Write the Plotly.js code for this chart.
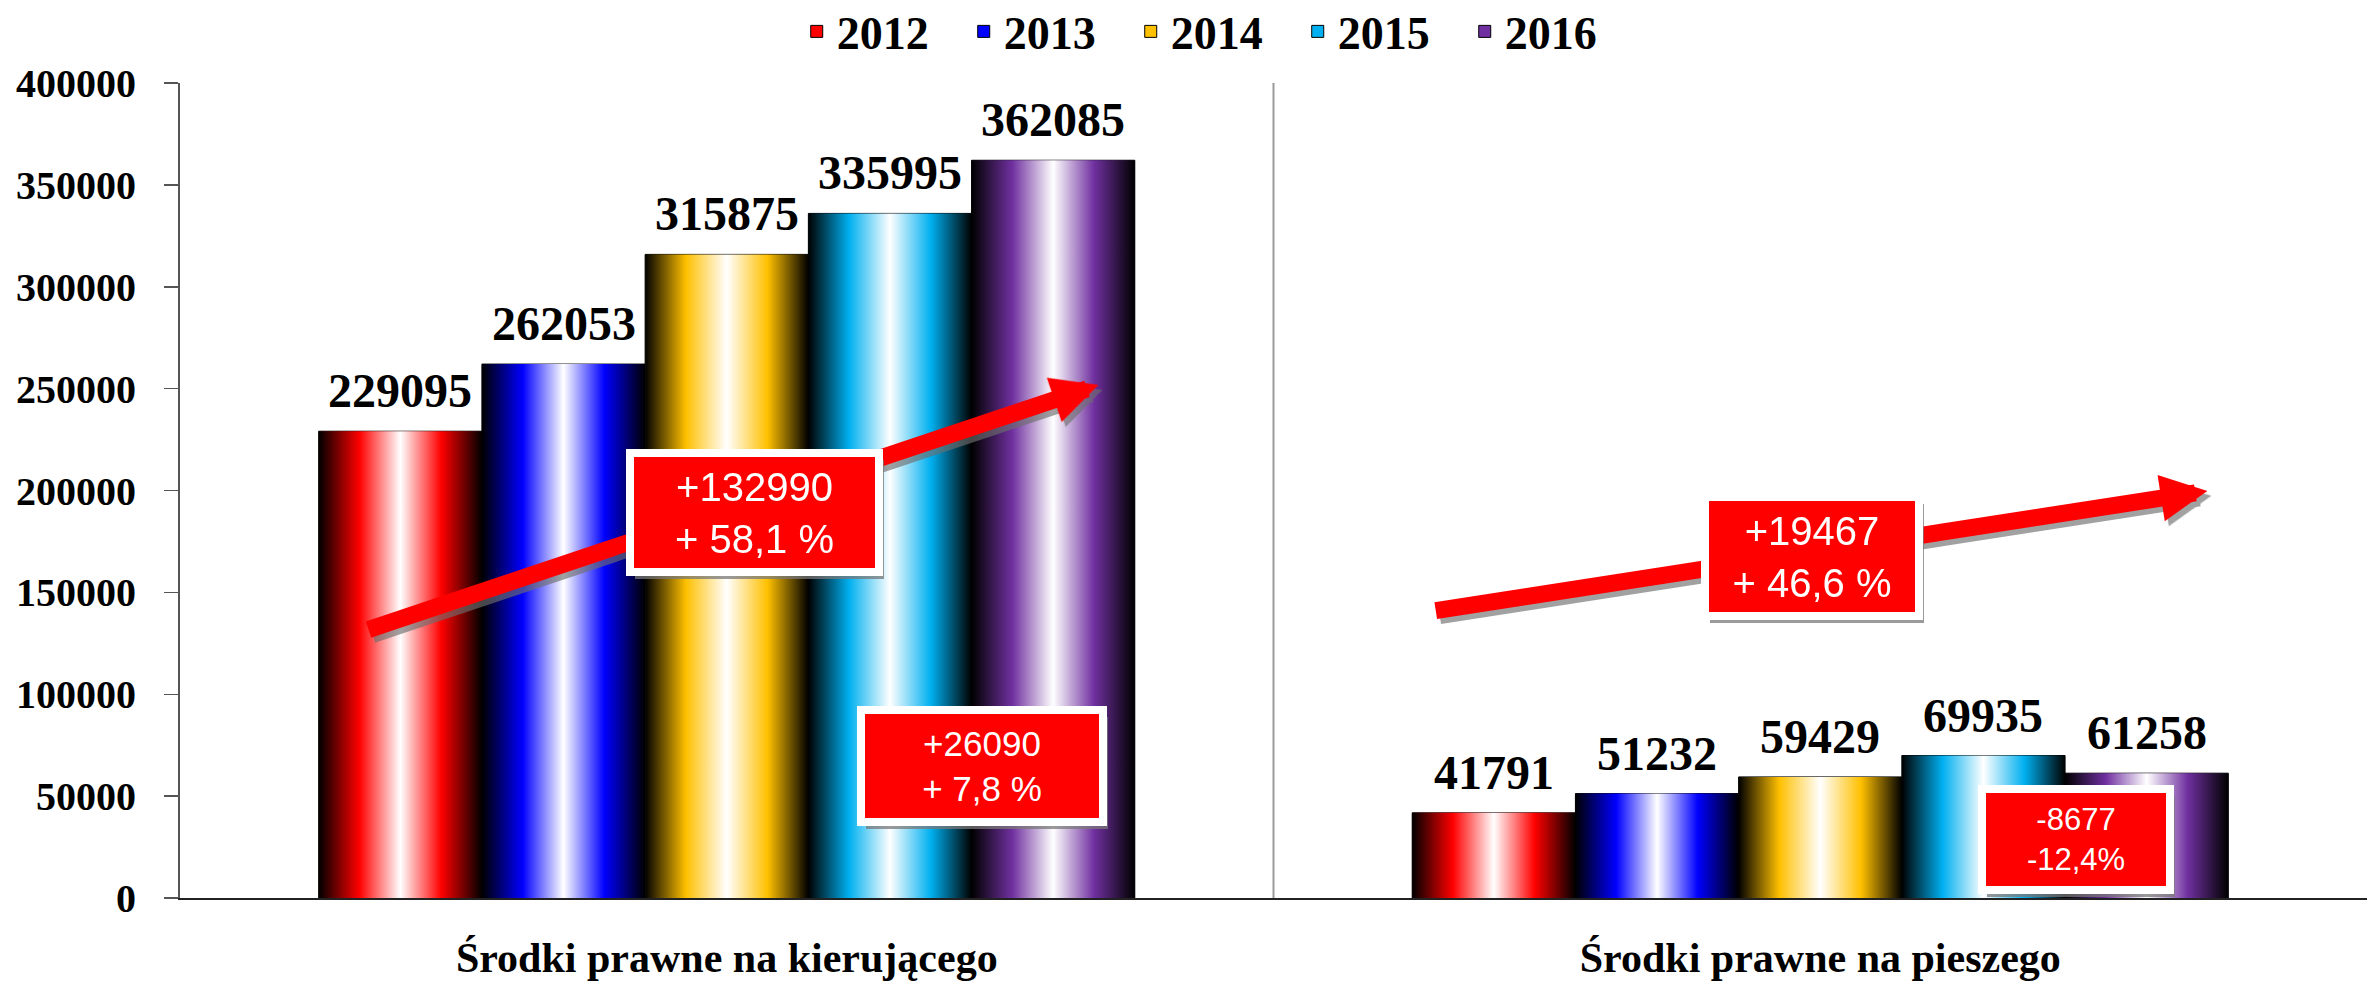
<!DOCTYPE html>
<html>
<head>
<meta charset="utf-8">
<script src="https://cdn.plot.ly/plotly-3.0.1.min.js"></script>
<style>html,body{margin:0;padding:0;background:#fff;}#chart{width:2367px;height:982px;}</style>
</head>
<body>
<div id="chart"></div>
<script>
// ---- data ----
const categories = ['Środki prawne na kierującego', 'Środki prawne na pieszego'];
const years = ['2012', '2013', '2014', '2015', '2016'];
const values2012 = [229095, 41791];
const values2013 = [262053, 51232];
const values2014 = [315875, 59429];
const values2015 = [335995, 69935];
const values2016 = [362085, 61258];
const yearColors = ['#FF0000', '#0000FF', '#FFC000', '#00B0F0', '#7030A0'];
const changeLabels = ['+132990<br>+ 58,1 %', '+26090<br>+ 7,8 %', '+19467<br>+ 46,6 %', '-8677<br>-12,4%'];
const yTickValues = [0, 50000, 100000, 150000, 200000, 250000, 300000, 350000, 400000];

const series = [values2012, values2013, values2014, values2015, values2016];
const catPos = categories.map((c, i) => i);

const BARGAP = 0.2537;
const groupW = 1 - BARGAP;
const barW = groupW / years.length;
const serif = 'Liberation Serif';
const sans = 'Liberation Sans';
const PLOT_H = 815;

const traces = [];
// real bars (data + legend)
series.forEach((vals, i) => {
  traces.push({
    type: 'bar', x: catPos, y: vals, name: years[i],
    marker: {color: yearColors[i], line: {width: 1, color: '#000'}},
    hoverinfo: 'name+y'
  });
});
// gradient cylinder look over each bar
series.forEach((vals, i) => {
  vals.forEach((v, c) => {
    const x0 = c - groupW / 2 + i * barW, x1 = x0 + barW;
    traces.push({
      type: 'scatter', mode: 'lines', x: [x0, x1, x1, x0, x0], y: [0, 0, v, v, 0],
      fill: 'toself', line: {width: 0}, showlegend: false, hoverinfo: 'skip',
      fillgradient: {type: 'horizontal', colorscale: [[0, '#000000'], [0.25, yearColors[i]], [0.5, '#FFFFFF'], [0.75, yearColors[i]], [1, '#000000']]}
    });
  });
});

const annotations = [];
// value labels
series.forEach((vals, i) => {
  vals.forEach((v, c) => {
    annotations.push({
      x: c - groupW / 2 + (i + 0.5) * barW, y: v, xref: 'x', yref: 'y',
      text: String(v), showarrow: false, yanchor: 'bottom', yshift: 12,
      font: {family: serif, size: 48, weight: 'bold', color: '#000'}
    });
  });
});

// arrows (shadow + red)
const arrows = [
  {tail: [-0.329, 131500], tip: [0.340, 251800]},
  {tail: [0.647, 140900], tip: [1.354, 199800]}
];
arrows.forEach(a => {
  annotations.push({x: a.tip[0], y: a.tip[1], ax: a.tail[0], ay: a.tail[1], axref: 'x', ayref: 'y', xref: 'x', yref: 'y',
    text: '', showarrow: true, arrowhead: 2, arrowsize: 0.55, arrowwidth: 17, arrowcolor: 'rgba(110,110,110,0.65)', standoff: 0, xshift: 4, yshift: -5});
  annotations.push({x: a.tip[0], y: a.tip[1], ax: a.tail[0], ay: a.tail[1], axref: 'x', ayref: 'y', xref: 'x', yref: 'y',
    text: '', showarrow: true, arrowhead: 2, arrowsize: 0.55, arrowwidth: 17, arrowcolor: '#FF0000', standoff: 0});
});

// red change boxes
const boxes = [
  {x: 0.0258, y: 189400, w: 241, h: 111, fs: 40},
  {x: 0.2334, y: 64800, w: 234, h: 104, fs: 35},
  {x: 0.9925, y: 167850, w: 206, h: 111, fs: 40},
  {x: 1.2339, y: 28470, w: 180, h: 93, fs: 31}
];
boxes.forEach((b, k) => {
  annotations.push({x: b.x, y: b.y, xref: 'x', yref: 'y', showarrow: false, text: ' ', width: b.w, height: b.h,
    bgcolor: 'rgba(120,120,120,0.75)', bordercolor: 'rgba(120,120,120,0)', borderwidth: 8, borderpad: 0, xshift: 5, yshift: -7,
    font: {family: sans, size: b.fs, color: '#fff'}});
  annotations.push({x: b.x, y: b.y, xref: 'x', yref: 'y', showarrow: false, text: changeLabels[k], width: b.w, height: b.h,
    bgcolor: '#FF0000', bordercolor: '#FFFFFF', borderwidth: 8, borderpad: 0, align: 'center', valign: 'middle',
    font: {family: sans, size: b.fs, color: '#FFFFFF'}});
});

// category divider and boundary ticks
const shapes = [
  {type: 'line', layer: 'below', xref: 'x', yref: 'y', ysizemode: 'pixel', yanchor: 0, x0: 0.5, x1: 0.5, y0: -14, y1: PLOT_H,
    line: {color: '#9a9a9a', width: 2}},
  {type: 'line', xref: 'x', yref: 'y', ysizemode: 'pixel', yanchor: 0, x0: -0.5, x1: -0.5, y0: -14, y1: 0,
    line: {color: '#555', width: 2}},
  {type: 'line', xref: 'x', yref: 'y', ysizemode: 'pixel', yanchor: 0, x0: 1.4995, x1: 1.4995, y0: -14, y1: 0,
    line: {color: '#555', width: 2}}
];

const layout = {
  width: 2367, height: 982,
  margin: {l: 180, r: 0, t: 83, b: 84, autoexpand: false},
  paper_bgcolor: '#fff', plot_bgcolor: '#fff',
  barmode: 'group', bargap: BARGAP, bargroupgap: 0,
  showlegend: true,
  legend: {orientation: 'h', x: 0.282, xanchor: 'left', y: 1.108, yanchor: 'top',
    font: {family: serif, size: 46, weight: 'bold', color: '#000'}, entrywidth: 122, entrywidthmode: 'pixels',
    bgcolor: 'rgba(0,0,0,0)', traceorder: 'normal'},
  xaxis: {range: [-0.5, 1.5], tickvals: catPos, ticktext: categories, ticks: '', showline: true, linecolor: '#222', linewidth: 2,
    showgrid: false, zeroline: false, tickfont: {family: serif, size: 42, weight: 'bold', color: '#000'}, ticklabelstandoff: 22, fixedrange: true},
  yaxis: {range: [0, 400000], tickvals: yTickValues, tickformat: 'd', ticks: 'outside', ticklen: 14, tickcolor: '#555', tickwidth: 1.5,
    showline: true, linecolor: '#555', linewidth: 2, showgrid: false, zeroline: false, ticklabelstandoff: 20,
    tickfont: {family: serif, size: 40, weight: 'bold', color: '#000'}},
  shapes: shapes,
  annotations: annotations
};

Plotly.newPlot('chart', traces, layout, {displayModeBar: false, staticPlot: true});
</script>
</body>
</html>
